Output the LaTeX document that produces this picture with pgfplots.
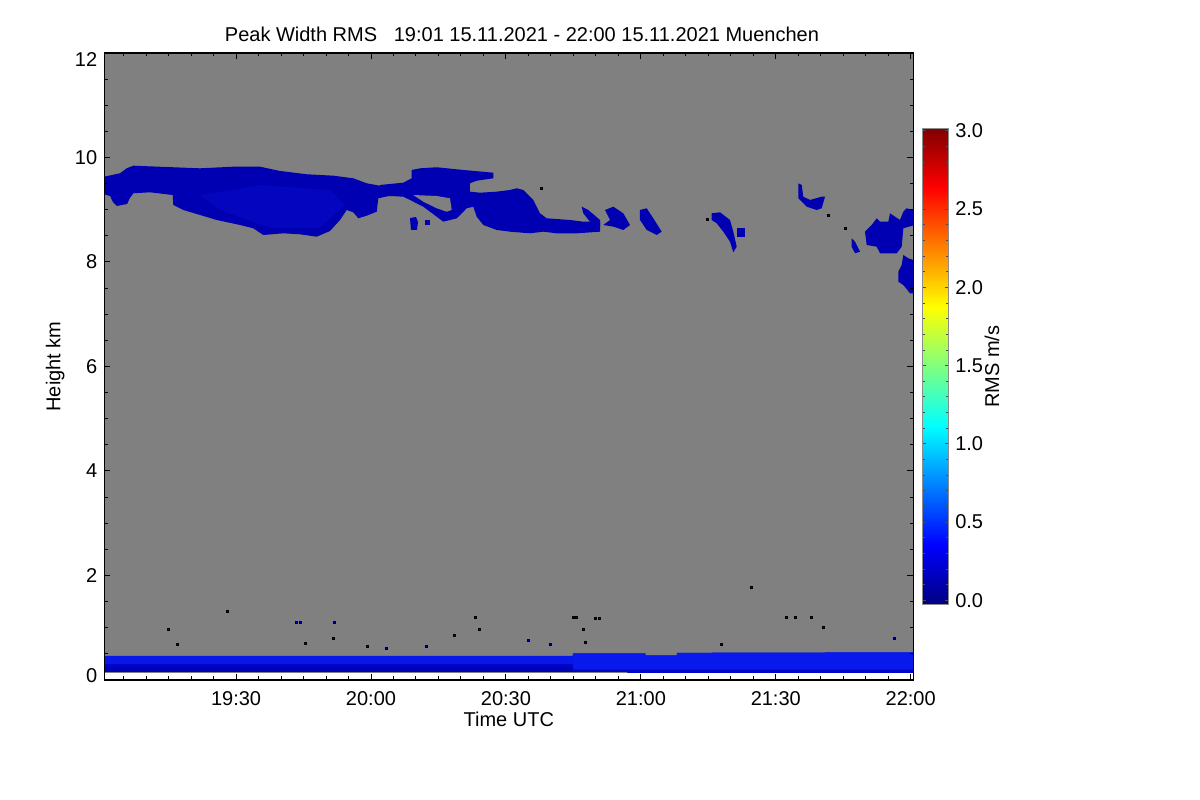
\documentclass[border=0pt]{standalone}
\usepackage{fontspec}
\setmainfont{Liberation Sans}
\usepackage{pgfplots}
\pgfplotsset{compat=1.18}
\definecolor{bg}{RGB}{128,128,128}
\definecolor{cld}{RGB}{0,0,178}
\definecolor{cldb}{RGB}{3,6,190}
\definecolor{bandd}{RGB}{0,6,200}
\definecolor{bandb}{RGB}{10,30,246}
\definecolor{bandn}{RGB}{0,0,160}
\definecolor{speck}{RGB}{0,0,190}
\begin{document}
\fontsize{10bp}{12bp}\selectfont
\begin{tikzpicture}
\path[use as bounding box] (0,0) rectangle (600bp,400bp);
\begin{axis}[
  at={(52.15bp,60bp)}, anchor=south west,
  scale only axis, width=404.5bp, height=313.5bp,
  xmin=0.7, xmax=180.58, ymin=0, ymax=12,
  axis on top,
  /pgf/number format/assume math mode=true,
  tick label style={font=\fontsize{10bp}{12bp}\selectfont},
  label style={font=\fontsize{10bp}{12bp}\selectfont},
  xtick={30,60,90,120,150,180},
  xticklabels={19:30,20:00,20:30,21:00,21:30,22:00},
  minor xtick={5,10,...,175},
  ytick={0,2,...,10},
  yticklabels={\raisebox{4bp}{0},2,4,6,8,10},
  extra y ticks={12},
  extra y tick labels={12},
  extra tick style={yticklabel style={yshift=-3.5bp}},
  minor ytick={0.5,1,...,11.5},
  major tick length=3bp, minor tick length=1.75bp,
  tick style={black, line width=0.5bp},
  axis line style={line width=0.6bp},
  xticklabel style={yshift=-2bp},
  xlabel={Time UTC},
  xlabel style={at={(axis description cs:0.5,-0.0622)}, anchor=center},
  ylabel={Height km},
  ylabel style={at={(axis description cs:-0.0608,0.5)}, anchor=center},
  title={Peak Width RMS\ \ \ 19:01 15.11.2021 - 22:00 15.11.2021 Muenchen},
  title style={at={(axis description cs:0.5163,1.0191)}, anchor=base, yshift=-6pt, font=\fontsize{10bp}{12bp}\selectfont},
  colormap/jet,
  point meta min=-0.03, point meta max=3.017,
  colorbar,
  colorbar style={
    at={(parent axis.south east)}, anchor=south west,
    xshift=-3.84bp, yshift=37.5bp,
    scale only axis, width=12.8bp, height=238.4bp,
    ytick={0,0.5,...,3},
    minor ytick={0,0.1,...,3},
    yticklabel style={/pgf/number format/.cd, fixed, fixed zerofill, precision=1, assume math mode=true},
    tick label style={font=\fontsize{10bp}{12bp}\selectfont},
    major tick length=1.5bp, minor tick length=1.2bp,
    tick style={black!70, line width=0.4bp},
    axis line style={draw=black!45, line width=0.5bp},
    ylabel={RMS m/s},
    ylabel style={at={(axis description cs:2.707,0.5)}, anchor=center, font=\fontsize{10bp}{12bp}\selectfont},
  },
]
% gray data background
\addplot[fill=bg, draw=none] coordinates {(0.7,0.13) (180.58,0.13) (180.58,12) (0.7,12)} -- cycle;

% boundary layer band
\addplot[fill=bandd, draw=none] coordinates {(0.7,0.155) (117,0.155) (117,0.135) (180.58,0.135) (180.58,0.53) (128,0.52) (128,0.47) (121,0.47) (121,0.51) (104.9,0.51) (104.9,0.46) (0.7,0.46)} -- cycle;
\addplot[fill=bandb, draw=none, fill opacity=0.75] coordinates {(0.7,0.31) (104.9,0.31) (104.9,0.46) (0.7,0.46)} -- cycle;
\addplot[fill=bandb, draw=none, fill opacity=0.8] coordinates {(104.9,0.2) (180.58,0.2) (180.58,0.53) (128,0.52) (128,0.47) (121,0.47) (121,0.51) (104.9,0.51)} -- cycle;
\addplot[fill=bandn, draw=none, fill opacity=0.45] coordinates {(0.7,0.155) (104.9,0.155) (104.9,0.24) (0.7,0.24)} -- cycle;

% main cloud
\addplot[fill=cld, draw=none] coordinates {(0.7,9.633) (4.19,9.698) (5.68,9.793) (7.15,9.843) (14.57,9.818) (21.98,9.793) (29.38,9.824) (35.32,9.824) (39.77,9.742) (45.70,9.679) (51.62,9.652) (56.06,9.602) (59.04,9.506) (62.00,9.460) (64.22,9.474)
(64.22,9.269) (61.62,9.219) (61.27,8.963) (59.04,8.886) (57.18,8.836) (56.06,8.951) (54.60,8.995) (53.11,8.804) (50.88,8.593) (47.93,8.484) (44.21,8.530) (40.50,8.549) (36.05,8.517) (33.83,8.645) (30.87,8.708) (25.69,8.804) (21.98,8.900) (18.26,8.995) (16.04,9.091) (15.91,9.282) (10.86,9.334) (7.15,9.315) (6.41,9.225) (5.75,9.110) (3.52,9.072) (2.63,9.148) (1.97,9.263) (0.7,9.296)} -- cycle;
\addplot[fill=cldb, draw=none] coordinates {(21.98,9.282) (35.32,9.474) (50.88,9.378) (54.22,9.091) (48.66,8.651) (37.54,8.651) (26.43,8.995)} -- cycle;

% connecting layer, upper lobe and second blob
\addplot[fill=cld, draw=none] coordinates {(62.00,9.474) (64.22,9.493) (67.18,9.518) (69.05,9.602) (69.05,9.761) (70.90,9.793) (74.61,9.813) (80.52,9.761) (87.19,9.709) (87.19,9.602) (83.50,9.556) (82.01,9.506) (82.01,9.346) (84.24,9.326) (87.95,9.346) (90.91,9.378) (92.40,9.411) (93.86,9.378) (96.09,9.187) (97.58,8.932) (99.07,8.836) (104.25,8.804) (107.21,8.771) (110.92,8.771) (110.92,8.580) (105.74,8.549) (101.29,8.549) (98.31,8.580) (95.35,8.549) (90.91,8.580) (87.95,8.613) (84.97,8.708) (83.50,8.867) (82.75,9.058) (81.28,9.028) (79.06,8.836) (76.08,8.771) (74.61,8.867) (71.63,9.058) (68.67,9.187) (67.18,9.250) (64.22,9.263) (62.00,9.263)} -- cycle;
\addplot[fill=bg, draw=none] coordinates {(69.41,9.282) (74.61,9.263) (77.57,9.219) (77.94,8.995) (76.83,8.963) (74.61,9.028) (71.63,9.154)} -- cycle;
\addplot[fill=cld, draw=none] coordinates {(68.67,8.842) (70.01,8.861) (70.45,8.766) (70.23,8.613) (68.89,8.613)} -- cycle;
\addplot[fill=cld, draw=none] coordinates {(72.01,8.804) (73.12,8.804) (73.12,8.708) (72.01,8.708)} -- cycle;

% small pieces
\addplot[fill=cld, draw=none] coordinates {(106.85,9.058) (108.32,8.995) (110.92,8.804) (110.92,8.676) (108.69,8.771) (107.21,8.932)} -- cycle;
\addplot[fill=cld, draw=none] coordinates {(112.03,8.995) (113.88,9.058) (116.10,8.932) (117.59,8.708) (116.10,8.613) (113.88,8.676) (111.65,8.708) (113.14,8.804)} -- cycle;
\addplot[fill=cld, draw=none] coordinates {(119.81,8.995) (121.30,9.028) (122.77,8.836) (124.64,8.580) (123.53,8.517) (121.30,8.613) (119.81,8.804)} -- cycle;
\addplot[fill=cld, draw=none] coordinates {(135.75,8.932) (137.60,8.951) (139.82,8.804) (140.56,8.580) (141.31,8.293) (140.56,8.186) (139.82,8.389) (138.33,8.580) (136.87,8.741) (135.75,8.804)} -- cycle;
\addplot[fill=cld, draw=none] coordinates {(141.38,8.651) (143.16,8.651) (143.16,8.484) (141.38,8.484)} -- cycle;
\addplot[fill=cld, draw=none] coordinates {(155.01,9.506) (155.77,9.474) (156.12,9.250) (157.61,9.187) (160.21,9.250) (160.95,9.250) (160.21,9.028) (159.10,8.995) (156.88,9.058) (155.01,9.219)} -- cycle;
\addplot[fill=cld, draw=none] coordinates {(166.88,8.454) (167.62,8.389) (168.73,8.197) (167.62,8.167) (166.88,8.293)} -- cycle;
\addplot[fill=cld, draw=none] coordinates {(169.84,8.580) (171.33,8.708) (172.44,8.836) (173.18,8.771) (175.02,8.771) (175.40,8.932) (177.62,8.804) (178.36,8.963) (179.11,9.028) (180.58,8.99) (180.58,8.70) (178.36,8.645) (178.00,8.293) (176.89,8.167) (173.18,8.167) (172.44,8.293) (170.22,8.325)} -- cycle;
\addplot[fill=cld, draw=none] coordinates {(178.36,8.134) (179.47,8.071) (180.58,8.038) (180.58,7.401) (179.85,7.401) (178.36,7.560) (177.25,7.623) (177.25,7.815) (178.00,7.943)} -- cycle;

% isolated specks
\addplot[only marks, mark=square*, mark size=0.5bp, mark options={draw=none, fill=speck}] coordinates {
(97.96,9.411) (134.78,8.823) (161.68,8.900) (165.39,8.645)
(14.93,0.976) (17.02,0.683) (28.05,1.307) (43.48,1.110) (44.37,1.110) (51.77,1.110) (51.62,0.798) (45.32,0.702) (59.11,0.637) (63.49,0.607) (72.23,0.637)
(83.12,1.200) (84.01,0.976) (104.98,1.200) (105.58,1.200) (109.87,1.173) (110.76,1.173) (107.21,0.976) (94.91,0.766) (99.87,0.689) (107.65,0.722) (78.52,0.861)
(144.65,1.767) (152.43,1.200) (154.43,1.200) (157.83,1.200) (160.57,1.001) (137.89,0.676) (176.36,0.798)};
\end{axis}
\end{tikzpicture}
\end{document}
